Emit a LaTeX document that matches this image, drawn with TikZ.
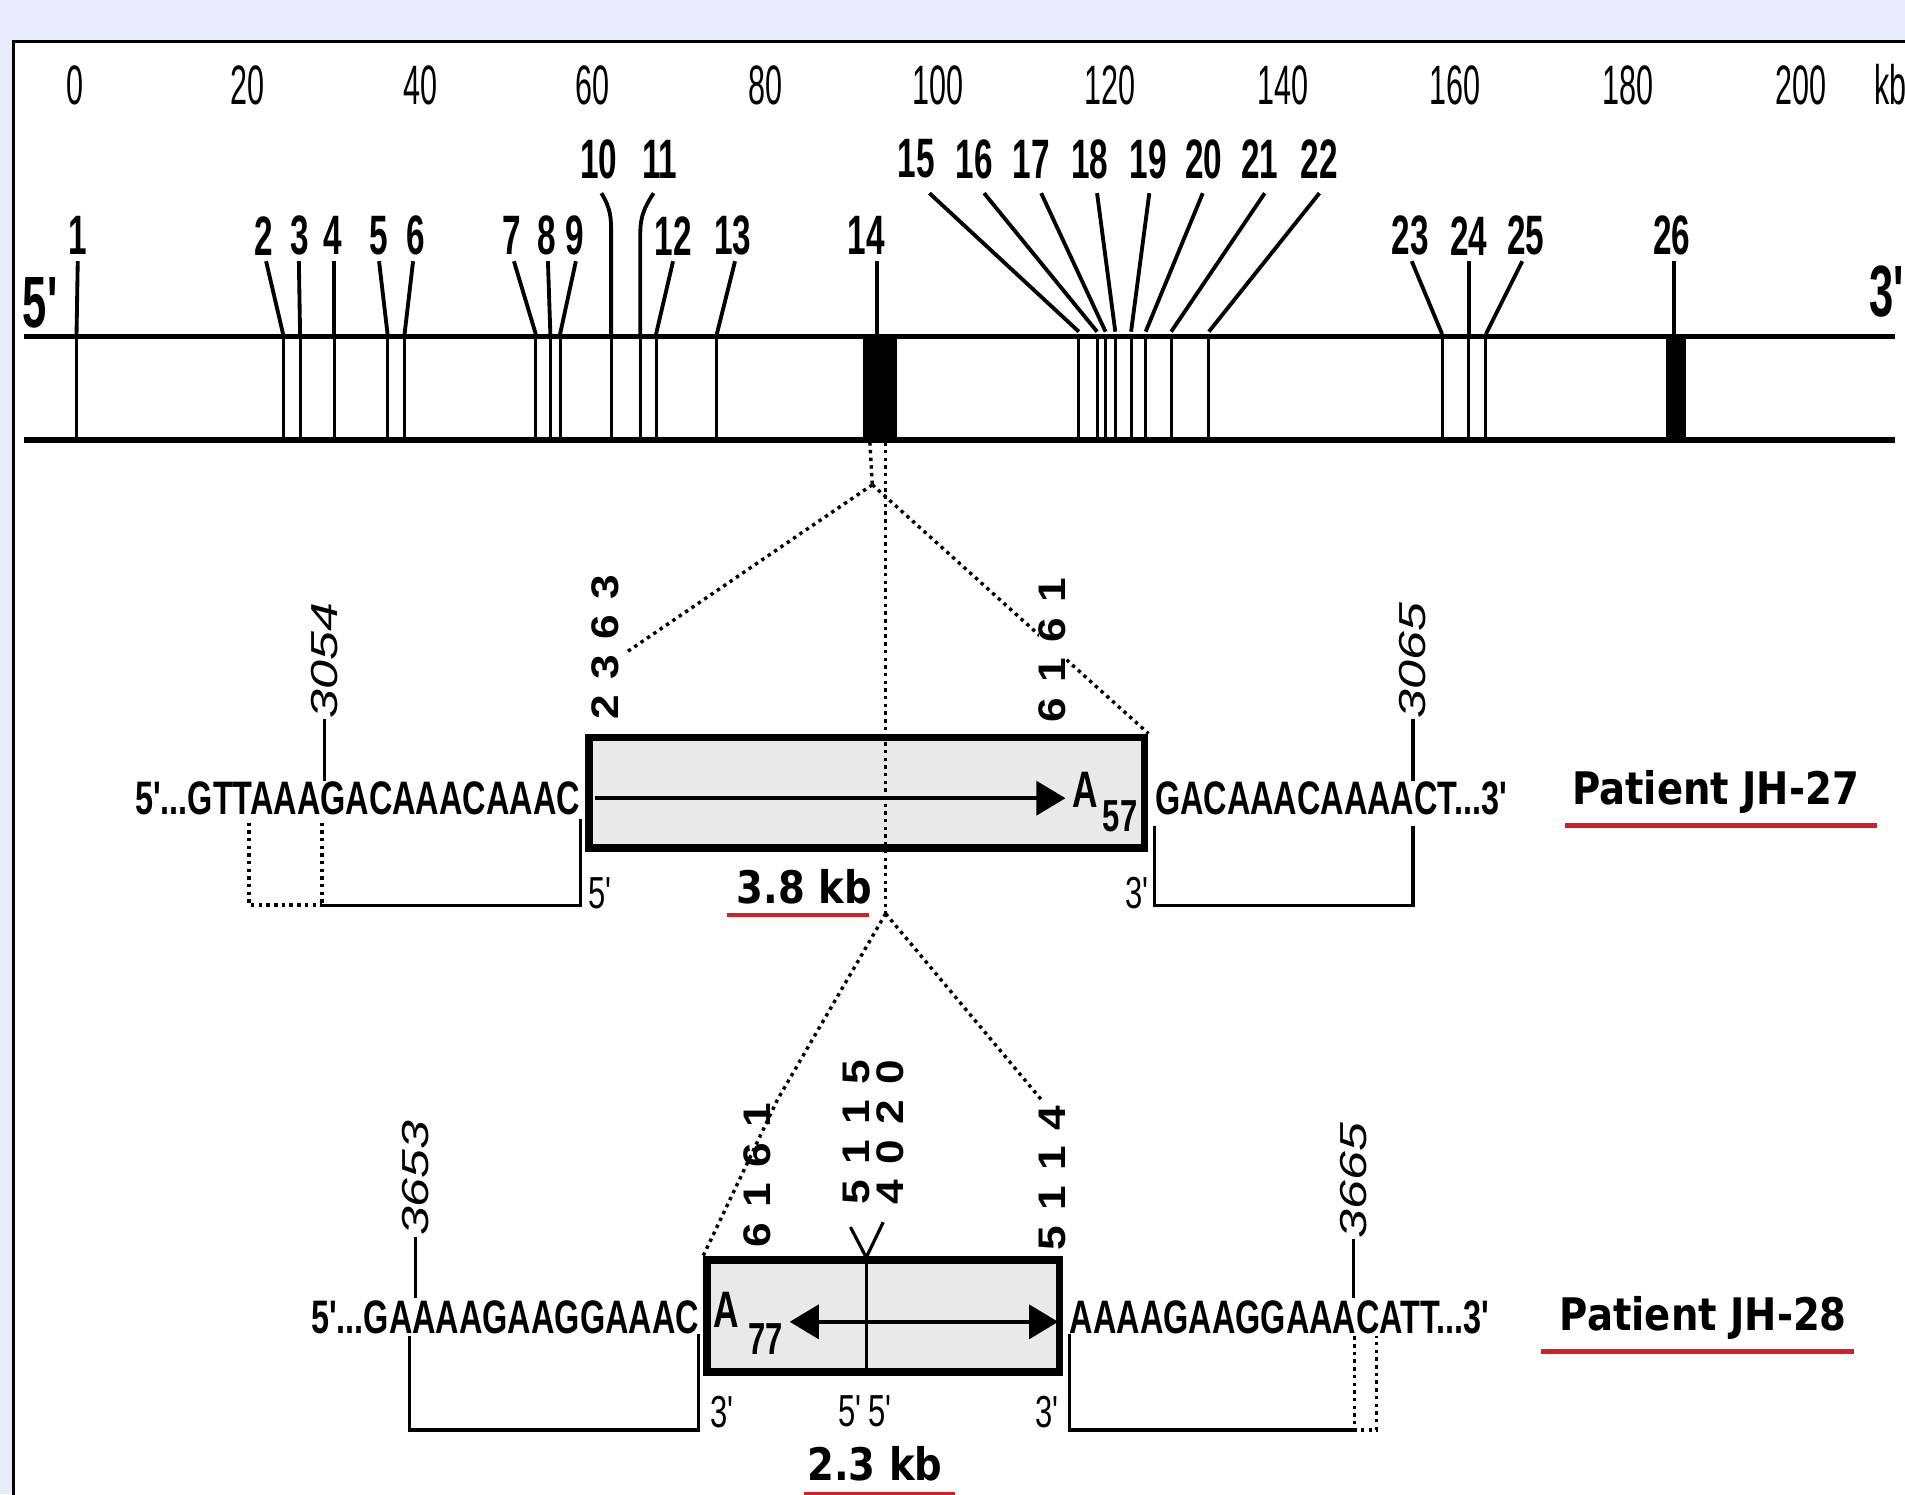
\documentclass[tikz,border=0pt]{standalone}
\usepackage{fontspec}
\setmainfont{Liberation Sans}
\newfontfamily\scalefont[FakeStretch=0.55]{Liberation Sans}
\newfontfamily\exonfont[FakeStretch=0.6]{Liberation Sans}
\newfontfamily\seqfont[FakeStretch=0.69]{Liberation Sans}
\newfontfamily\posfont[FakeStretch=1.38]{Liberation Sans}
\newfontfamily\bpfont[FakeStretch=1.15]{Liberation Sans}
\newfontfamily\tagfont[FakeStretch=0.86]{DejaVu Sans}
\usetikzlibrary{arrows.meta,calc,positioning}
\definecolor{pagelilac}{RGB}{231,234,251}
\definecolor{inkred}{RGB}{214,30,40}
\definecolor{insertgrey}{RGB}{233,233,233}
\newcommand\spread[4]{#1\hspace{.4em}#2\hspace{.4em}#3\hspace{.4em}#4}

\begin{document}
\begin{tikzpicture}[
  x=0.01cm, y=-0.01cm,
  every node/.style={inner sep=0pt},
  scalelbl/.style={font=\scalefont\fontsize{13}{13}\selectfont},
  exonlbl/.style={font=\exonfont\bfseries\fontsize{13}{13}\selectfont},
  endlbl/.style={font=\exonfont\bfseries\fontsize{17}{17}\selectfont},
  seqtxt/.style={font=\seqfont\bfseries\fontsize{11}{11}\selectfont},
  aletter/.style={font=\seqfont\bfseries\fontsize{12}{12}\selectfont},
  subnum/.style={font=\seqfont\bfseries\fontsize{10.5}{11}\selectfont},
  strandlbl/.style={font=\seqfont\fontsize{10.5}{11}\selectfont},
  poslbl/.style={font=\posfont\itshape\fontsize{8.8}{9}\selectfont,rotate=90,anchor=west},
  bplbl/.style={font=\bpfont\bfseries\fontsize{9}{9}\selectfont,rotate=90},
  tag/.style={font=\tagfont\bfseries\fontsize{10.5}{11}\selectfont},
  redline/.style={inkred,line width=1pt},
  bar/.style={line width=1.3pt},
  exonline/.style={line width=0.7pt},
  exonblk/.style={fill=black,minimum height=0.85cm},
  leader/.style={line width=0.9pt},
  brk/.style={line width=0.75pt},
  zoomline/.style={densely dotted,line width=0.8pt},
  insert/.style={draw,line width=1.8pt,fill=insertgrey},
  fwd/.style={-{Triangle[length=0.24cm,width=0.28cm]},line width=0.9pt},
  duo/.style={{Triangle[length=0.24cm,width=0.28cm]}-{Triangle[length=0.24cm,width=0.28cm]},line width=0.9pt}
]

% --- background and panel ---
\useasboundingbox (0,0) rectangle (1568,1230);
\clip (0,0) rectangle (1568,1230);
\fill[pagelilac] (0,0) rectangle (1568,1230);
\draw[fill=white,line width=0.7pt] (11,34) rectangle (1620,1300);

% --- kb scale ---
\foreach \kb in {0,20,...,200}
  \node[scalelbl] (kb\kb) at ({62+7.1*\kb},70) {\kb};
\node[scalelbl,anchor=west] (kbunit) at (1542,70) {kb};

% --- gene with exons ---
\draw[bar] (20,277) -- (1560,277);
\draw[bar] (20,362) -- (1560,362);
\node[endlbl] (end5) at (33,249) {5'};
\node[endlbl,anchor=west] (end3) at (1538,240) {3'};

% lower label row
\foreach \n/\lx/\tx/\bx in {1/64/64/63, 2/217/219/233, 3/247/246/247, 4/274/275/275,
    5/312/312/319, 6/342/340/333, 7/421/423/441, 8/450/451/453, 9/473/474/461,
    12/554/554/540, 13/603/605/590, 23/1161/1162/1187, 24/1209/1209/1209, 25/1256/1253/1223}{
  \node[exonlbl] (ex\n) at (\lx,194) {\n};
  \draw[leader] (\tx,215) -- (\bx,275);
  \draw[exonline] (\bx,277) -- (\bx,362);
}

% upper label row
\foreach \n/\lx/\tx/\bx in {15/754/765/888, 16/802/810/903, 17/849/857/910, 18/897/903/918,
    19/945/946/931, 20/991/990/943, 21/1037/1041/964, 22/1086/1086/995}{
  \node[exonlbl] (ex\n) at (\lx,131) {\n};
  \draw[leader] (\tx,159) -- (\bx,273);
  \draw[exonline] (\bx,277) -- (\bx,362);
}

\node[exonlbl] (ex10) at (493,131) {10};
\node[exonlbl] (ex11) at (543,131) {11};
\draw[leader] (495,159) .. controls (503,172) and (503,180) .. (503,192) -- (503,275);
\draw[exonline] (503,277) -- (503,362);
\draw[leader] (538,159) .. controls (528,174) and (527,182) .. (527,194) -- (527,275);
\draw[exonline] (527,277) -- (527,362);

\node[exonlbl] (ex14) at (713,194) {14};
\node[exonlbl] (ex26) at (1376,194) {26};
\node[exonblk,minimum width=0.28cm] (blk14) at (724,319.5) {};
\node[exonblk,minimum width=0.16cm] (blk26) at (1379.5,319.5) {};
\draw[leader] (722,215) -- (722,277);
\draw[leader] (1378,215) -- (1378,277);

% --- insertion boxes ---
\node[insert,minimum width=4.57cm,minimum height=0.91cm] (ins27) at (713.5,652.5) {};
\node[insert,minimum width=2.90cm,minimum height=0.92cm] (ins28) at (727,1083) {};

% --- zoom lines ---
\coordinate (apex1) at (718,399);
\coordinate (apex2) at (729,752);
\coordinate (leg27) at (514,538);
\coordinate (leg28) at (857,905);
\coordinate (leg28b) at (640,905);
\draw[zoomline] (716,364) -- (apex1);
\draw[zoomline] (729,364) -- (apex2);
\draw[zoomline] (apex1) -- (leg27);
\draw[zoomline] (apex1) -- (ins27.north east);
\draw[zoomline] (apex2) -- (leg28b) -- (ins28.north west);
\draw[zoomline] (apex2) -- (leg28);

% --- patient JH-27 ---
\node[bplbl] (bp2363) at (498,533) {\spread2363};
\node[bplbl,fill=white] (bp6161a) at (866,535) {\spread6161};
\draw[fwd] (490,657) -- (877,657);
\node[aletter] (polyA27) at (893,650) {A};
\node[subnum] (len57) at (922,672) {57};

\node[seqtxt,anchor=east] (seq27l) at (478,657) {5'...GTTAAAGACAAACAAAC};
\node[seqtxt,anchor=west] (seq27r) at (950,657) {GACAAACAAAACT...3'};

\node[poslbl] (p3054) at (267,592) {3054};
\node[poslbl] (p3065) at (1163,592) {3065};
\draw[brk] (p3054.west) -- (267,643);
\draw[brk] (p3065.west) -- (1163,643);

\draw[zoomline] (205,677) -- (205,745) -- (265,745);
\draw[zoomline] (265,677) -- (265,745);
\draw[brk] (265,745) -- (478,745) -- (478,674);
\draw[brk] (950,680) -- (950,745) -- (1163,745) -- (1163,680);
\node[strandlbl] (s5a) at (494,735) {5'};
\node[strandlbl] (s3a) at (936,735) {3'};

\node[tag] (kb38) at (662,730) {3.8 kb};
\draw[redline] ($(kb38.south west)+(-7,8)$) -- ($(kb38.south east)+(-3,8)$);
\node[tag] (tag27) at (1412,652) {Patient JH-27};
\draw[redline] ($(tag27.south west)+(-5,9)$) -- ($(tag27.south east)+(14,9)$);

% --- patient JH-28 ---
\node[bplbl] (bp6161b) at (623,967) {\spread6161};
\node[bplbl] (bp5115) at (705,932) {\spread5115};
\node[bplbl] (bp4020) at (733,932) {\spread4020};
\node[bplbl] (bp5114) at (866,970) {\spread5114};
\coordinate (junc) at (713,1035);
\draw[brk] (700,1010) -- (junc) -- (727,1006);
\draw[brk] (junc) -- (713,1128);
\draw[duo] (650,1088) -- (871,1088);
\node[aletter] (polyA28) at (598,1078) {A};
\node[subnum] (len77) at (630,1102) {77};

\node[seqtxt,anchor=east] (seq28l) at (576,1084) {5'...GAAAAGAAGGAAAC};
\node[seqtxt,anchor=west] (seq28r) at (880,1084) {AAAAGAAGGAAACATT...3'};

\node[poslbl] (p3653) at (342,1018) {3653};
\node[poslbl] (p3665) at (1114,1020) {3665};
\draw[brk] (p3653.west) -- (342,1068);
\draw[brk] (p3665.west) -- (1114,1068);

\draw[brk] (337,1100) -- (337,1177) -- (575,1177) -- (575,1098);
\draw[brk] (880,1098) -- (880,1177) -- (1115,1177);
\draw[zoomline] (1115,1100) -- (1115,1177) -- (1133,1177) -- (1133,1100);
\node[strandlbl] (s3b) at (594,1162) {3'};
\node[strandlbl] (s55) at (712,1162) {5'\,5'};
\node[strandlbl] (s3c) at (862,1162) {3'};

\node[tag] (kb23) at (720,1205) {2.3 kb};
\draw[redline] ($(kb23.south west)+(-2,10)$) -- ($(kb23.south east)+(10,10)$);
\node[tag] (tag28) at (1402,1085) {Patient JH-28};
\draw[redline] ($(tag28.south west)+(-15,9)$) -- ($(tag28.south east)+(5,9)$);
\end{tikzpicture}
\end{document}
